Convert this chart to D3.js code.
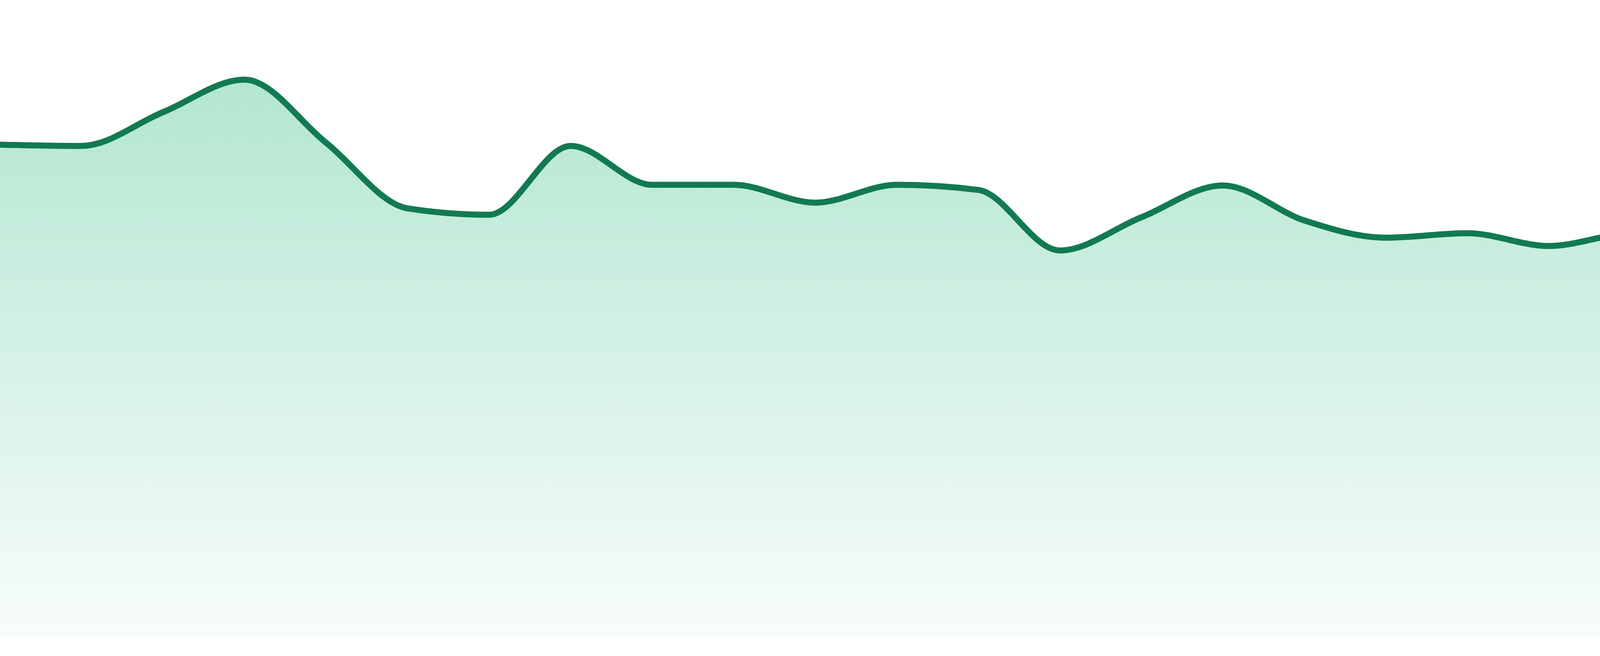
<!DOCTYPE html>
<html>
<head>
<meta charset="utf-8">
<script src="https://cdn.jsdelivr.net/npm/d3@7"></script>
<style>
  html, body { margin: 0; padding: 0; background: #ffffff; overflow: hidden; }
  svg { display: block; }
</style>
</head>
<body>
<svg id="chart" width="4800" height="1680"></svg>
<script>
// Data (arbitrary units, 0-100 scale)
const periods = d3.range(24);
const values = [77.3, 77.1, 82.4, 87.5, 77.6, 67.3, 66.3, 77.1,
                71.0, 71.0, 68.2, 71.0, 70.2, 60.7, 65.9, 70.9,
                65.4, 62.7, 63.4, 61.4, 63.3, 62.5, 66.5, 66.2];
const valueDomain = [0, 100];

const W = 4800, H = 1680;
const baseline = 1632;
const lineColor = "#127a52";
const fillColor = "rgb(17,178,112)";

const svg = d3.select("#chart");
const data = periods.map((p, i) => ({ p, v: values[i] }));

const x = d3.scaleLinear().domain(d3.extent(periods)).range([0, W]);
const y = d3.scaleLinear().domain(valueDomain).range([baseline, 0]);

const defs = svg.append("defs");
const grad = defs.append("linearGradient")
  .attr("id", "areaGrad")
  .attr("gradientUnits", "userSpaceOnUse")
  .attr("x1", 0).attr("x2", 0)
  .attr("y1", y(d3.max(values))).attr("y2", y(0));
grad.append("stop").attr("offset", "0%").attr("stop-color", fillColor).attr("stop-opacity", 0.32);
grad.append("stop").attr("offset", "100%").attr("stop-color", fillColor).attr("stop-opacity", 0.03);

const area = d3.area()
  .x(d => x(d.p))
  .y0(y(0))
  .y1(d => y(d.v))
  .curve(d3.curveMonotoneX);

const line = d3.line()
  .x(d => x(d.p))
  .y(d => y(d.v))
  .curve(d3.curveMonotoneX);

svg.append("path")
  .datum(data)
  .attr("d", area)
  .attr("fill", "url(#areaGrad)");

svg.append("path")
  .datum(data)
  .attr("d", line)
  .attr("fill", "none")
  .attr("stroke", lineColor)
  .attr("stroke-width", 15.5)
  .attr("stroke-linejoin", "round");
</script>
</body>
</html>
